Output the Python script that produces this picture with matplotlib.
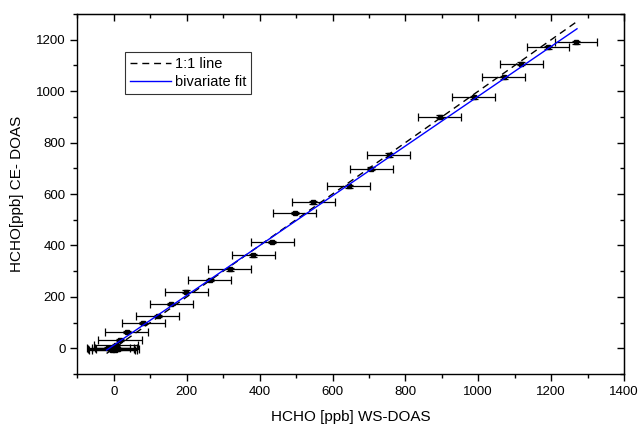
import numpy as np
import matplotlib.pyplot as plt
from matplotlib.ticker import MultipleLocator

plt.rcParams['font.family'] = ['Liberation Sans', 'DejaVu Sans']

# measured pairs (WS-DOAS, CE-DOAS) in ppb
ws = [-15, -8, -3, 2, 6, 10, -5, 5, 16, 35, 80, 120, 158, 199, 263, 318,
      382, 435, 497, 547, 645, 707, 755, 894, 988, 1070, 1118, 1191, 1269]
ce = [2, -3, 0, -5, 3, -2, -6, 13, 33, 65, 97, 125, 173, 220, 265, 307,
      361, 413, 527, 568, 630, 699, 752, 900, 976, 1055, 1107, 1170, 1191]
ws_err = [60, 62, 58, 61, 57, 59, 63, 60, 60, 59, 59, 59, 58, 59, 59, 59,
          59, 59, 59, 59, 59, 59, 59, 59, 59, 59, 59, 58, 58]
ce_err = [4, 4, 4, 4, 4, 4, 4, 4, 4, 4, 4, 4, 5, 5, 5, 5,
          5, 5, 5, 5, 5, 5, 6, 6, 6, 6, 6, 6, 6]

# lines
line_x = [-20, 1267]
fit_a, fit_b = 12.4, 0.968

fig, ax = plt.subplots(figsize=(6.4, 4.26), dpi=100)
fig.subplots_adjust(left=0.121, right=0.975, top=0.967, bottom=0.122)

ax.errorbar(ws, ce, xerr=ws_err, yerr=ce_err, fmt='s', color='black',
            ms=3, elinewidth=0.9, capsize=3, capthick=0.9, zorder=3)
ax.plot(line_x, line_x, 'k', ls=(0, (5, 3.5)), lw=1, label='1:1 line', zorder=4)
fx = np.array([-20, 1271])
ax.plot(fx, fit_a + fit_b * fx, color='blue', lw=1, label='bivariate fit', zorder=5)

ax.set_xlim(-100, 1400)
ax.set_ylim(-100, 1300)
ax.xaxis.set_major_locator(MultipleLocator(200))
ax.xaxis.set_minor_locator(MultipleLocator(100))
ax.yaxis.set_major_locator(MultipleLocator(200))
ax.yaxis.set_minor_locator(MultipleLocator(100))
ax.tick_params(which='both', labelsize=9.5, width=1)
ax.tick_params(which='major', length=5)
ax.tick_params(which='minor', length=3)
for s in ax.spines.values():
    s.set_linewidth(1)

# inward ticks on top/right, as in the original
ax2 = ax.secondary_xaxis('top')
ax2.xaxis.set_major_locator(MultipleLocator(200))
ax2.xaxis.set_minor_locator(MultipleLocator(100))
ax2.tick_params(which='both', direction='in', labeltop=False, width=1)
ax2.tick_params(which='major', length=5)
ax2.tick_params(which='minor', length=3)
ay2 = ax.secondary_yaxis('right')
ay2.yaxis.set_major_locator(MultipleLocator(200))
ay2.yaxis.set_minor_locator(MultipleLocator(100))
ay2.tick_params(which='both', direction='in', labelright=False, width=1)
ay2.tick_params(which='major', length=5)
ay2.tick_params(which='minor', length=3)

ax.set_xlabel('HCHO [ppb] WS-DOAS', fontsize=11, labelpad=9)
ax.set_ylabel('HCHO[ppb] CE- DOAS', fontsize=11, labelpad=9)

leg = ax.legend(loc='upper left', bbox_to_anchor=(0.073, 0.915), fontsize=10.5,
                frameon=True, fancybox=False, edgecolor='black',
                handlelength=2.8, borderpad=0.35, labelspacing=0.25,
                handletextpad=0.3)
leg.get_frame().set_linewidth(0.8)

fig.savefig('out.png', dpi=100)
